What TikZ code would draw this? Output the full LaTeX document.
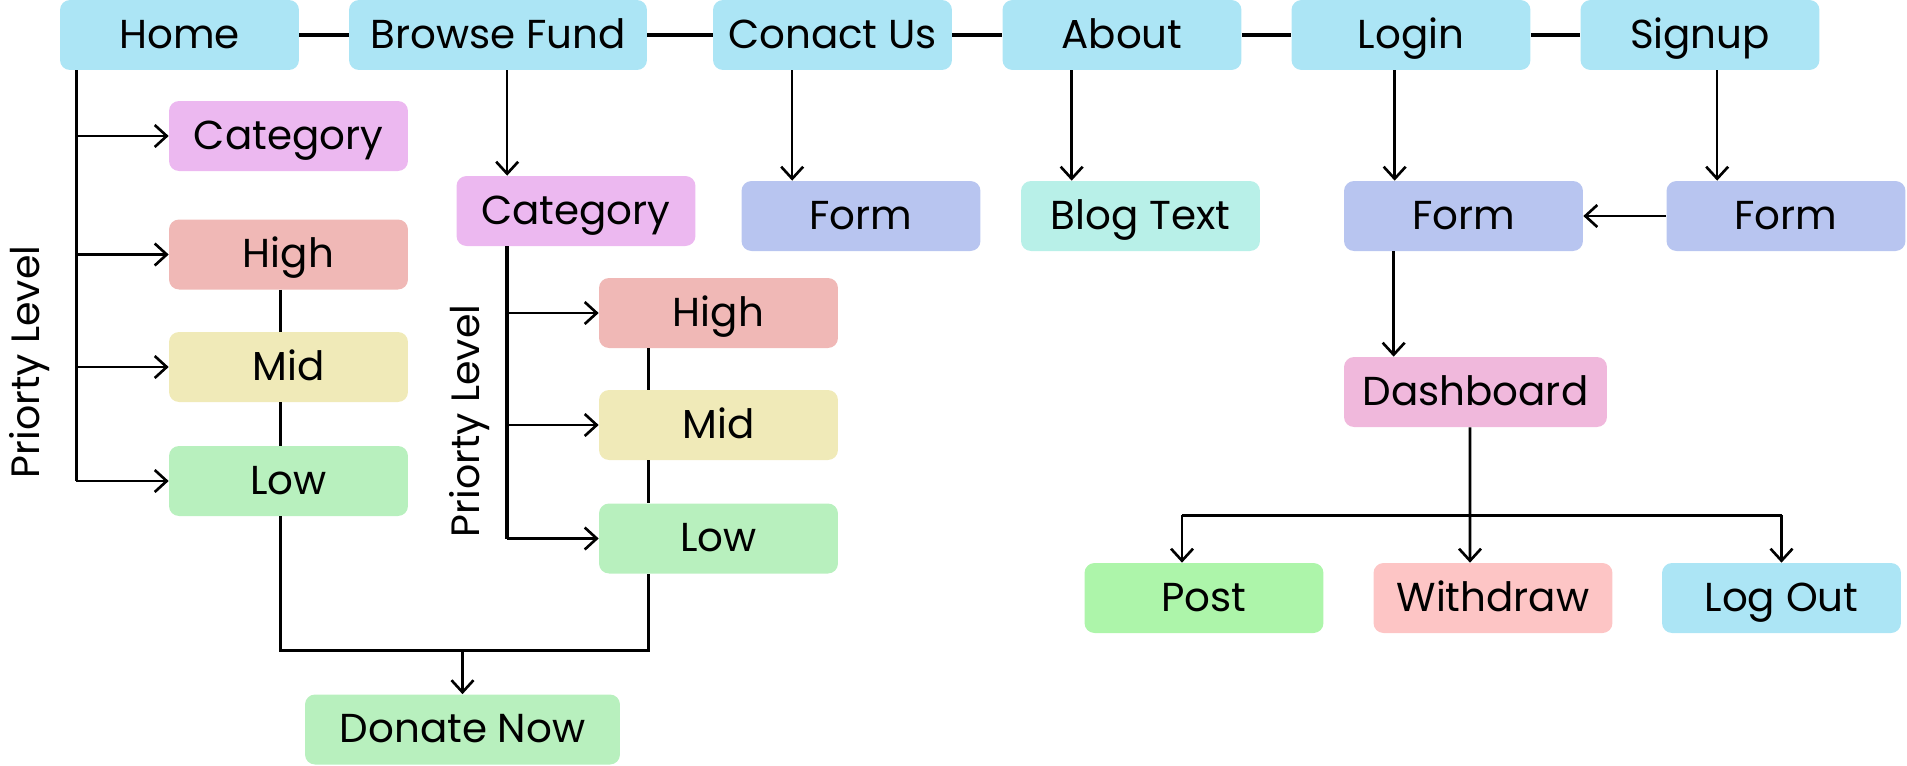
\documentclass[tikz,border=0pt]{standalone}
\usepackage{fontspec}
\setmainfont{Poppins}
\usepackage{tikz}
\usetikzlibrary{arrows.meta,calc}
\definecolor{navblue}{HTML}{ACE5F5}
\definecolor{catpink}{HTML}{ECB8F0}
\definecolor{highred}{HTML}{F0B8B6}
\definecolor{midyellow}{HTML}{F0EAB8}
\definecolor{lowgreen}{HTML}{B8F0BE}
\definecolor{formblue}{HTML}{B8C5F0}
\definecolor{blogteal}{HTML}{B8F0E8}
\definecolor{dashpink}{HTML}{F0B8DC}
\definecolor{postgreen}{HTML}{ADF5AA}
\definecolor{drawred}{HTML}{FDC5C5}
\begin{document}
\begin{tikzpicture}[x=0.02cm,y=-0.02cm,box/.style={rectangle,rounded corners=0.2cm,minimum width=4.78cm,minimum height=1.4cm,inner sep=0pt,text height=0.6cm,text depth=0.08cm,font=\fontsize{23}{27}\selectfont}]
            \tikzstyle{arr}=[-{Straight Barb[length=0.24cm,width=0.44cm]},line width=1.5pt]
            \tikzstyle{bus}=[line width=1.9pt]
            \tikzstyle{side}=[rotate=90,font=\fontsize{22.5}{26}\selectfont]
            \useasboundingbox (0,0) rectangle (1907,765);
            \node(home)[box,fill=navblue] at (179.5,35) {Home};
            \node(browse)[box,fill=navblue,minimum width=5.96cm] at (498,35) {Browse Fund};
            \node(contact)[box,fill=navblue] at (832.5,35) {Conact Us};
            \node(about)[box,fill=navblue] at (1122,35) {About};
            \node(login)[box,fill=navblue] at (1411,35) {Login};
            \node(signup)[box,fill=navblue] at (1700,35) {Signup};
            \node(catl)[box,fill=catpink] at (288.5,136) {Category};
            \node(highl)[box,fill=highred] at (288.5,254.5) {High};
            \node(midl)[box,fill=midyellow] at (288.5,367) {Mid};
            \node(lowl)[box,fill=lowgreen] at (288.5,481) {Low};
            \node(catr)[box,fill=catpink] at (576,211) {Category};
            \node(highr)[box,fill=highred] at (718.5,313) {High};
            \node(midr)[box,fill=midyellow] at (718.5,425) {Mid};
            \node(lowr)[box,fill=lowgreen] at (718.5,538.5) {Low};
            \node(donate)[box,fill=lowgreen,minimum width=6.3cm] at (462.5,729.5) {Donate Now};
            \node(formc)[box,fill=formblue] at (861,216) {Form};
            \node(blog)[box,fill=blogteal] at (1140.5,216) {Blog Text};
            \node(forml)[box,fill=formblue] at (1463.5,216) {Form};
            \node(forms)[box,fill=formblue] at (1786,216) {Form};
            \node(dash)[box,fill=dashpink,minimum width=5.26cm] at (1475.5,392) {Dashboard};
            \node(post)[box,fill=postgreen] at (1204,598) {Post};
            \node(withdraw)[box,fill=drawred] at (1493,598) {Withdraw};
            \node(logout)[box,fill=navblue] at (1781.5,598) {Log Out};
            \node(prl)[side] at (30,362) {Priorty Level};
            \node(prr)[side] at (470,421) {Priorty Level};
            \draw[bus] (home) -- (browse) -- (contact) -- (about) -- (login) -- (signup);
            \coordinate (hb) at ([xshift=0.33cm]home.south west);
            \draw[bus] (hb) -- (hb |- lowl.west);
            \foreach \t in {catl,highl,midl,lowl}
              \draw[arr] (hb |- \t.west) -- (\t.west);
            \coordinate (cb) at ([xshift=1.02cm]catr.south west);
            \draw[bus] (cb) -- (cb |- lowr.west);
            \foreach \t in {highr,midr,lowr}
              \draw[arr] (cb |- \t.west) -- (\t.west);
            \draw[arr] ([xshift=1.02cm]catr.north west |- browse.south) -- ([xshift=1.02cm]catr.north west);
            \draw[arr] ([xshift=1.02cm]formc.north west |- contact.south) -- ([xshift=1.02cm]formc.north west);
            \draw[arr] ([xshift=1.02cm]blog.north west |- about.south) -- ([xshift=1.02cm]blog.north west);
            \draw[arr] ([xshift=1.02cm]forml.north west |- login.south) -- ([xshift=1.02cm]forml.north west);
            \draw[arr] ([xshift=1.02cm]forms.north west |- signup.south) -- ([xshift=1.02cm]forms.north west);
            \draw[arr] (forms) -- (forml);
            \draw[arr] ([xshift=1cm]dash.north west |- forml.south) -- ([xshift=1cm]dash.north west);
            \draw[bus] ([xshift=2.24cm]highl.south west) -- ([xshift=2.24cm]midl.north west);
            \draw[bus] ([xshift=2.24cm]midl.south west) -- ([xshift=2.24cm]lowl.north west);
            \draw[bus] ([xshift=1cm]highr.south west) -- ([xshift=1cm]midr.north west);
            \draw[bus] ([xshift=1cm]midr.south west) -- ([xshift=1cm]lowr.north west);
            \draw[bus] ([xshift=2.24cm]lowl.south west) -- ++(0,134) coordinate (dj) -| ([xshift=1cm]lowr.south west);
            \draw[arr] (dj -| donate.north) -- (donate.north);
            \coordinate (db) at ($(dash.south)+(-5.5,88)$);
            \coordinate (pa) at ([xshift=-0.44cm]post.north);
            \draw[bus] (db -| pa) -- (db -| logout.north);
            \draw[arr] ([xshift=-0.11cm]dash.south) -- (db |- withdraw.north);
            \draw[arr] (db -| pa) -- (pa);
            \draw[arr] (db -| logout.north) -- (logout.north);
\end{tikzpicture}
\end{document}
